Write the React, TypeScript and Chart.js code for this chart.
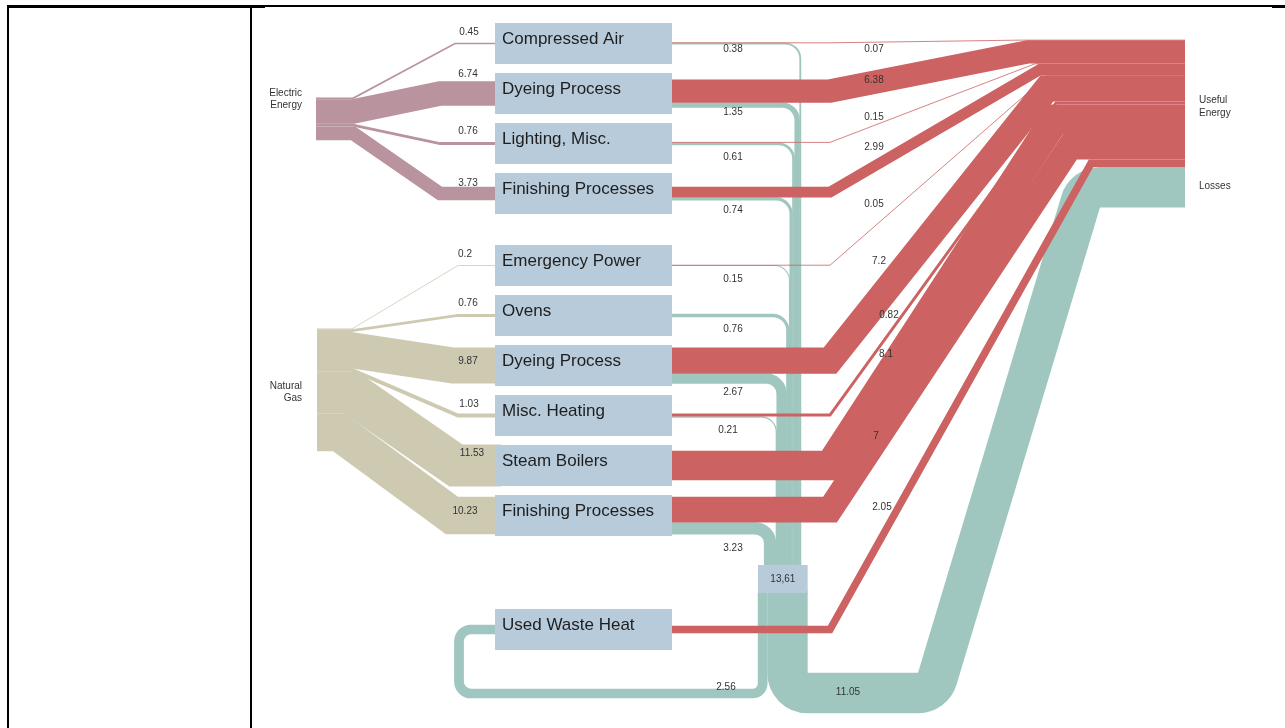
import React, { useEffect, useRef } from "react";
import { Chart, registerables } from "chart.js";

Chart.register(...registerables);

// ------------------------------------------------------------------ data
const processNames = [
  "Compressed Air",
  "Dyeing Process",
  "Lighting, Misc.",
  "Finishing Processes",
  "Emergency Power",
  "Ovens",
  "Dyeing Process",
  "Misc. Heating",
  "Steam Boilers",
  "Finishing Processes",
  "Used Waste Heat",
];
// Electric Energy -> processes 0..3
const electricValues = [0.45, 6.74, 0.76, 3.73];
// Natural Gas -> processes 4..9
const gasValues = [0.2, 0.76, 9.87, 1.03, 11.53, 10.23];
// process -> Useful Energy
const usefulValues: (number | null)[] = [0.07, 6.38, 0.15, 2.99, 0.05, null, 7.2, 0.82, 8.1, 7, 2.05];
// process -> waste heat collector
const lossValues: (number | null)[] = [0.38, 1.35, 0.61, 0.74, 0.15, 0.76, 2.67, 0.21, null, 3.23, null];
const collectorValue = 13.61;
const recoveredValue = 2.56; // collector -> Used Waste Heat
const lossesValue = 11.05; // collector -> Losses
const sourceLabels = [["Electric", "Energy"], ["Natural", "Gas"]];
const sinkLabels = [["Useful", "Energy"], ["Losses"]];

// ---------------------------------------------------------------- layout
const UNIT = 3.65; // layout units per energy unit
const BOX_X0 = 495;
const BOX_X1 = 672;
const BOX_H = 41;
const boxTop = [23, 73, 123, 173, 245, 295, 345, 395, 445, 495, 609];
const SRC_X = [316, 317];
const SRC_TOP = [97.5, 328.5];
const srcBendX = [353, 353, 353, 353, 352, 352, 350, 352, 351, 339];
const srcJoinX = [455, 440, 440, 440, 458, 458, 453, 458, 456, 452];
const RED_BEND_X = 830;
const redEndX: (number | null)[] = [1020, 1028, 1035, 1040, 1048, null, 1047, 1056, 1055, 1070, 1091];
const SINK_X1 = 1185;
const USEFUL_TOP = 40;
const LOSS_RIGHT = 801;
const TEAL_R = 15;
const COLL_X0 = 758;
const COLL_Y0 = 565;
const COLL_Y1 = 593;
const LOOP_Y = 693.5;
const LOOP_X = 459;
const LOSS_Y = 693;
const LOSS_BEND1_X = 933;
const LOSS_BEND2_X = 1085;

const supplyLabelPos = [
  [469, 32], [468, 74], [468, 131], [468, 183],
  [465, 254], [468, 303], [468, 361], [469, 404], [472, 453], [465, 511],
];
const lossLabelPos: ([number, number] | null)[] = [
  [733, 49], [733, 112], [733, 157], [733, 210], [733, 279], [733, 329], [733, 392], [728, 430], null, [733, 548], null,
];
const usefulLabelPos: ([number, number] | null)[] = [
  [874, 49], [874, 80], [874, 117], [874, 147], [874, 204], null, [879, 261], [889, 315], [886, 354], [876, 436], [882, 507],
];
const recoveredLabelPos = [726, 687];
const lossesLabelPos = [848, 692];
const sourceLabelPos = [[302, 93], [302, 386]];
const sinkLabelPos = [[1199, 100], [1199, 186]];

// ---------------------------------------------------------------- styles
const C_RED = "#cc6262";
const C_TEAL = "#9fc7bf";
const C_BOX = "#b8cbdb";
const C_ELEC = "#b9939d";
const C_GAS = "#cdcab1";
const FONT = "'Liberation Sans', Arial, sans-serif";

type Pt = [number, number];

function strokeFlow(
  ctx: CanvasRenderingContext2D,
  pts: Pt[],
  width: number,
  color: string,
  radius: number | number[]
) {
  ctx.save();
  ctx.beginPath();
  ctx.moveTo(pts[0][0], pts[0][1]);
  for (let i = 1; i < pts.length - 1; i++) {
    const r = Array.isArray(radius) ? radius[i - 1] : radius;
    if (r > 0) ctx.arcTo(pts[i][0], pts[i][1], pts[i + 1][0], pts[i + 1][1], r);
    else ctx.lineTo(pts[i][0], pts[i][1]);
  }
  ctx.lineTo(pts[pts.length - 1][0], pts[pts.length - 1][1]);
  ctx.lineWidth = Math.max(width, 0.8);
  ctx.strokeStyle = color;
  ctx.lineJoin = "miter";
  ctx.miterLimit = 30;
  ctx.lineCap = "butt";
  ctx.stroke();
  ctx.restore();
}

function fmt(v: number) {
  return String(v);
}

const sankeyPlugin = {
  id: "sankeyDraw",
  afterDatasetsDraw(chart: any) {
    const ctx: CanvasRenderingContext2D = chart.ctx;
    const xs = chart.scales.x;
    const ys = chart.scales.y;
    const X = (v: number) => xs.getPixelForValue(v);
    const Y = (v: number) => ys.getPixelForValue(v);
    const W = (v: number) => Math.abs(ys.getPixelForValue(v * UNIT) - ys.getPixelForValue(0));
    const WX = (v: number) => Math.abs(xs.getPixelForValue(v * UNIT) - xs.getPixelForValue(0));
    const boxC = (p: number) => Y(boxTop[p] + BOX_H / 2);

    // ---- supply flows (sources -> processes)
    const supplies = [
      { vals: electricValues, first: 0, src: 0, color: C_ELEC },
      { vals: gasValues, first: 4, src: 1, color: C_GAS },
    ];
    supplies.forEach((s) => {
      let cur = Y(SRC_TOP[s.src]);
      s.vals.forEach((v, k) => {
        const p = s.first + k;
        const w = W(v);
        const yc = cur + w / 2;
        cur += w;
        const yb = boxC(p);
        strokeFlow(
          ctx,
          [
            [X(SRC_X[s.src]), yc],
            [X(srcBendX[p]), yc],
            [X(srcJoinX[p]), yb],
            [X(BOX_X0 + 6), yb],
          ],
          w,
          s.color,
          0
        );
      });
    });

    // ---- process outputs geometry
    const outs = processNames.map((_, p) => {
      const rv = usefulValues[p] ?? 0;
      const lv = lossValues[p] ?? 0;
      const rw = W(rv);
      const lw = W(lv);
      const top = boxC(p) - (rw + lw) / 2;
      return { rv, lv, rw, lw, redC: top + rw / 2, lossC: top + rw + lw / 2 };
    });

    // ---- teal flows into collector
    let cx = X(LOSS_RIGHT);
    outs.forEach((o) => {
      if (!o.lv) return;
      const xc = cx - WX(o.lv) / 2;
      cx -= WX(o.lv);
      strokeFlow(
        ctx,
        [
          [X(BOX_X1 - 4), o.lossC],
          [xc, o.lossC],
          [xc, Y(COLL_Y0 + 2)],
        ],
        o.lw + 0.5,
        C_TEAL,
        TEAL_R
      );
    });

    // ---- collector outputs
    const cx0 = X(COLL_X0);
    const recW = WX(recoveredValue);
    const lossW = WX(lossesValue);
    const uwhC = boxC(10);
    strokeFlow(
      ctx,
      [
        [cx0 + recW / 2, Y(COLL_Y1 - 2)],
        [cx0 + recW / 2, Y(LOOP_Y)],
        [X(LOOP_X), Y(LOOP_Y)],
        [X(LOOP_X), uwhC],
        [X(BOX_X0 + 6), uwhC],
      ],
      W(recoveredValue) + 0.4,
      C_TEAL,
      [10, 12, 12]
    );
    let usefulTotal = 0;
    usefulValues.forEach((v) => (usefulTotal += v ?? 0));
    const lossesC = Y(USEFUL_TOP) + W(usefulTotal) + W(lossesValue) / 2;
    strokeFlow(
      ctx,
      [
        [cx0 + recW + lossW / 2, Y(COLL_Y1 - 2)],
        [cx0 + recW + lossW / 2, Y(LOSS_Y)],
        [X(LOSS_BEND1_X), Y(LOSS_Y)],
        [X(LOSS_BEND2_X), lossesC],
        [X(SINK_X1), lossesC],
      ],
      W(lossesValue),
      C_TEAL,
      [20, 20, 20]
    );

    // ---- red flows into Useful Energy
    let sy = Y(USEFUL_TOP);
    outs.forEach((o, p) => {
      if (!o.rv) return;
      const ye = sy + o.rw / 2;
      sy += o.rw;
      strokeFlow(
        ctx,
        [
          [X(BOX_X1 - 4), o.redC],
          [X(RED_BEND_X), o.redC],
          [X(redEndX[p] as number), ye],
          [X(SINK_X1), ye],
        ],
        o.rw,
        C_RED,
        0
      );
    });

    // ---- process boxes
    ctx.save();
    processNames.forEach((name, p) => {
      const y0 = Y(boxTop[p]);
      const y1 = Y(boxTop[p] + BOX_H);
      ctx.fillStyle = C_BOX;
      ctx.fillRect(X(BOX_X0), y0, X(BOX_X1) - X(BOX_X0), y1 - y0);
      ctx.fillStyle = "#1e1e1e";
      ctx.font = `17px ${FONT}`;
      ctx.textAlign = "left";
      ctx.textBaseline = "middle";
      ctx.fillText(name, X(BOX_X0 + 7), (y0 + y1) / 2 - 4);
    });
    // collector box
    ctx.fillStyle = C_BOX;
    const cw = WX(collectorValue);
    ctx.fillRect(cx0, Y(COLL_Y0), cw, Y(COLL_Y1) - Y(COLL_Y0));
    ctx.fillStyle = "#333";
    ctx.font = `10px ${FONT}`;
    ctx.textAlign = "center";
    ctx.textBaseline = "middle";
    ctx.fillText(String(collectorValue).replace(".", ","), cx0 + cw / 2, (Y(COLL_Y0) + Y(COLL_Y1)) / 2);

    // ---- value labels
    ctx.font = `10px ${FONT}`;
    ctx.fillStyle = "#333";
    const allSupply = [...electricValues, ...gasValues];
    allSupply.forEach((v, i) => ctx.fillText(fmt(v), X(supplyLabelPos[i][0]), Y(supplyLabelPos[i][1])));
    lossValues.forEach((v, p) => {
      const pos = lossLabelPos[p];
      if (v != null && pos) ctx.fillText(fmt(v), X(pos[0]), Y(pos[1]));
    });
    usefulValues.forEach((v, p) => {
      const pos = usefulLabelPos[p];
      if (v != null && pos) ctx.fillText(fmt(v), X(pos[0]), Y(pos[1]));
    });
    ctx.fillText(fmt(recoveredValue), X(recoveredLabelPos[0]), Y(recoveredLabelPos[1]));
    ctx.fillText(fmt(lossesValue), X(lossesLabelPos[0]), Y(lossesLabelPos[1]));

    // ---- node names
    ctx.textAlign = "right";
    sourceLabels.forEach((lines, i) =>
      lines.forEach((t, j) => ctx.fillText(t, X(sourceLabelPos[i][0]), Y(sourceLabelPos[i][1] + j * 12.5)))
    );
    ctx.textAlign = "left";
    sinkLabels.forEach((lines, i) =>
      lines.forEach((t, j) => ctx.fillText(t, X(sinkLabelPos[i][0]), Y(sinkLabelPos[i][1] + j * 13)))
    );
    ctx.restore();
  },
};

export default function App() {
  const ref = useRef<HTMLCanvasElement | null>(null);
  useEffect(() => {
    if (!ref.current) return;
    const chart = new Chart(ref.current, {
      type: "scatter",
      data: { datasets: [{ data: [], showLine: false }] },
      options: {
        responsive: false,
        animation: false,
        devicePixelRatio: 1,
        events: [],
        layout: { padding: 0 },
        plugins: { legend: { display: false }, tooltip: { enabled: false }, title: { display: false } },
        scales: {
          x: { type: "linear", min: 0, max: 1285, display: false },
          y: { type: "linear", min: 0, max: 728, reverse: true, display: false },
        },
      },
      plugins: [sankeyPlugin],
    } as any);
    return () => chart.destroy();
  }, []);

  const line = (s: React.CSSProperties) => (
    <div style={{ position: "absolute", background: "#000", ...s }} />
  );

  return (
    <div style={{ position: "absolute", left: 0, top: 0, width: 1285, height: 728, background: "#fff", overflow: "hidden" }}>
      <canvas ref={ref} width={1285} height={728} style={{ position: "absolute", left: 0, top: 0, display: "block" }} />
      {line({ left: 7, top: 5, width: 1278, height: 2 })}
      {line({ left: 7, top: 5, width: 258, height: 3 })}
      {line({ left: 1272, top: 5, width: 13, height: 3 })}
      {line({ left: 7, top: 5, width: 2, height: 723 })}
      {line({ left: 250, top: 5, width: 2, height: 723 })}
    </div>
  );
}
